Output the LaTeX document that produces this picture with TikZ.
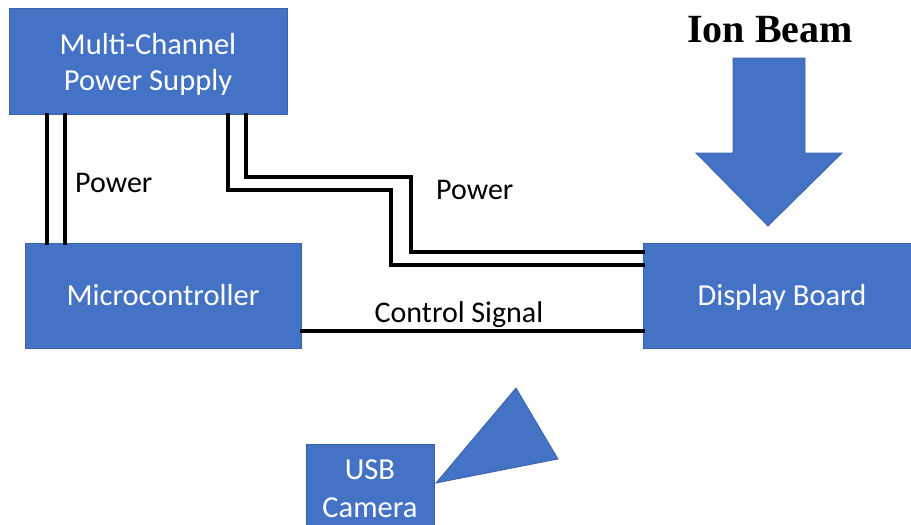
\documentclass[tikz,border=0pt]{standalone}
\usepackage{fontspec}
\setmainfont{Carlito}
\newfontfamily\timesbold{Liberation Serif}
\definecolor{boxblue}{HTML}{4472C4}
\definecolor{boxedge}{HTML}{3A62A8}
\begin{document}
\begin{tikzpicture}[x=1pt,y=-1pt,
  blk/.style={rectangle, fill=boxblue, draw=boxedge, line width=0.8pt, text=white,
    font=\fontsize{30.5}{36}\selectfont, inner sep=0pt},
  twoline/.style={align=center},
  oneline/.style={text height=24.4pt, text depth=4.9pt},
  blktext/.style={text=white, font=\fontsize{30.5}{36}\selectfont, align=center, inner sep=0pt},
  wire/.style={line width=3.8pt, line join=miter, line cap=rect},
  lbl/.style={font=\fontsize{30}{34}\selectfont, inner sep=0pt, text height=24pt, text depth=4.8pt}]
\useasboundingbox (0,0) rectangle (911,525);
\path[clip] (0,0) rectangle (911,525);

\node[blk, minimum width=278pt, minimum height=106pt,
  label={[blktext, yshift=-3pt]center:Multi-Channel\\Power Supply}] (ps) at (148,61) {};
\node[blk, oneline, minimum width=276pt, minimum height=105pt] (mc) at (163,295.5) {Microcontroller};
\node[blk, oneline, minimum width=278pt, minimum height=105pt] (db) at (782,295.5) {Display Board};
\node[blk, twoline, minimum width=128pt, minimum height=92pt] (cam) at (370,490) {\raisebox{4pt}{USB}\\\raisebox{2pt}{Camera}};

% left power pair
\draw[wire] ([xshift=38pt]ps.south west) -- ([xshift=22pt]mc.north west);
\draw[wire] ([xshift=56pt]ps.south west) -- ([xshift=40pt]mc.north west);
\node[lbl, anchor=west] (p1) at (75,183) {Power};

% right power pair
\coordinate (k1) at (391,190);
\coordinate (k2) at (411,177);
\draw[wire] ([xshift=219pt]ps.south west) |- (k1) |- ([yshift=30.5pt]db.west);
\draw[wire] ([xshift=237pt]ps.south west) |- (k2) |- ([yshift=43.5pt]db.west);
\node[lbl, anchor=west] (p2) at (436,190) {Power};

% control signal
\draw[wire] ([yshift=-35.5pt]mc.east) -- ([yshift=-35.5pt]db.west);
\node[lbl] (cs) at (459,313) {Control Signal};

% ion beam arrow
\node[font=\timesbold\fontsize{40}{42}\selectfont\bfseries, inner sep=0pt] (ib) at (770,30) {Ion Beam};
\draw[fill=boxblue, draw=boxedge, line width=0.8pt]
  (733,58) -- (805,58) -- (805,153) -- (842,153) -- (768,226) -- (696,153) -- (733,153) -- cycle;

% camera view triangle
\draw[fill=boxblue, draw=boxedge, line width=0.8pt]
  (436,483) -- (516,388) -- (558,459) -- cycle;
\end{tikzpicture}
\end{document}
